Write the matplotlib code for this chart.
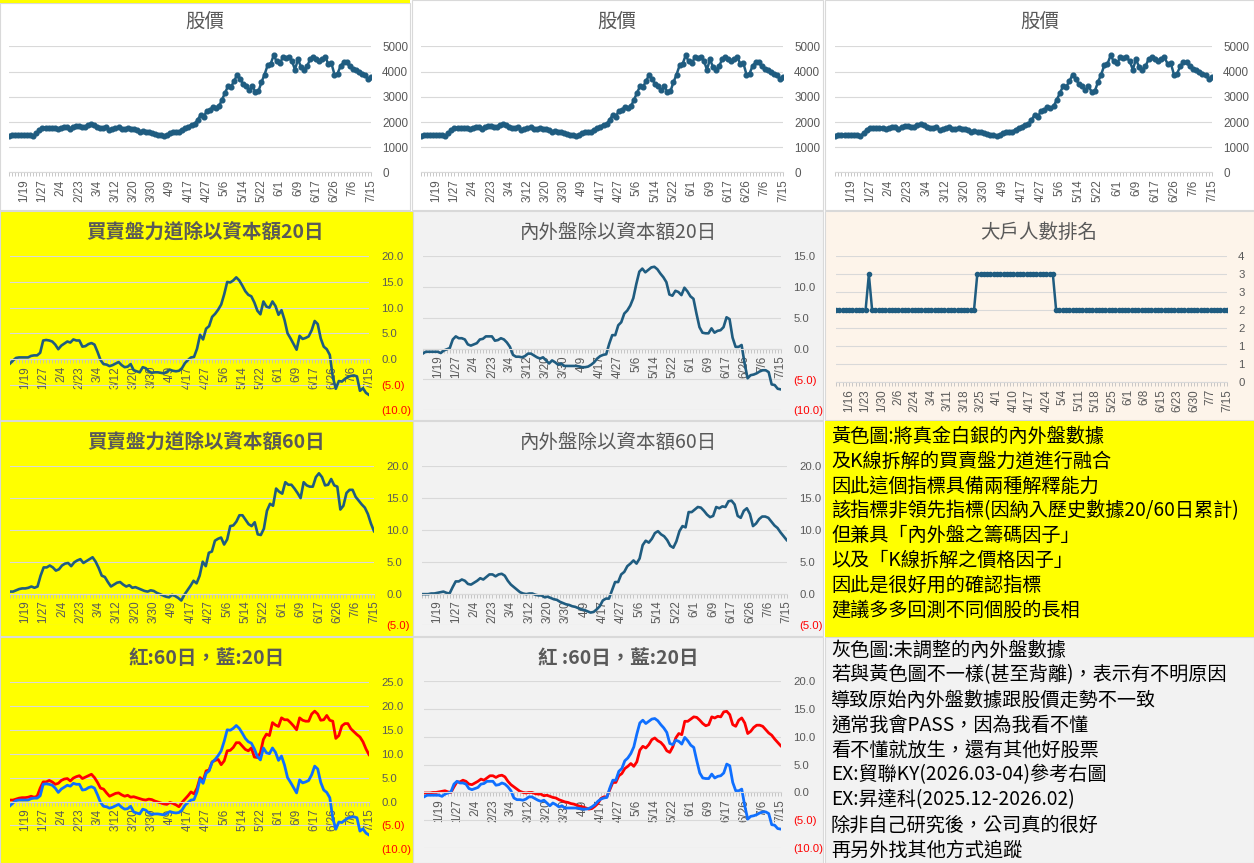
import math
import numpy as np
import matplotlib.pyplot as plt
from matplotlib.patches import Rectangle

plt.rcParams['font.family'] = ['Noto Sans CJK TC', 'DejaVu Sans']

W, H = 1254, 863

# 股價 (120 trading days)
price = [1460, 1500, 1500, 1500, 1500, 1500, 1500, 1480, 1460, 1550,
         1680, 1780, 1780, 1780, 1780, 1780, 1720, 1780, 1820, 1790,
         1720, 1800, 1860, 1860, 1800, 1820, 1880, 1930, 1880, 1820,
         1760, 1780, 1800, 1680, 1720, 1780, 1790, 1740, 1720, 1760,
         1740, 1720, 1700, 1620, 1640, 1620, 1600, 1580, 1520, 1490,
         1470, 1460, 1480, 1580, 1590, 1590, 1620, 1700, 1760, 1820,
         1900, 1920, 2080, 2280, 2200, 2440, 2460, 2600, 2560, 2620,
         2880, 3150, 3420, 3400, 3620, 3880, 3700, 3500, 3420, 3260,
         3420, 3200, 3220, 3580, 3880, 4240, 4300, 4640, 4400, 4320,
         4560, 4540, 4560, 4420, 4080, 4480, 4180, 4080, 4200, 4500,
         4560, 4480, 4400, 4480, 4560, 4300, 4320, 3880, 3920, 4220,
         4360, 4360, 4200, 4100, 4050, 4000, 3920, 3860, 3700, 3780]

# 買賣盤力道除以資本額 20日 / 60日
power20 = [-0.9, -0.3, 0.2, 0.3, 0.3, 0.3, 0.3, 0.6, 0.7, 0.7,
           1.2, 3.6, 3.7, 3.6, 3.4, 2.8, 1.9, 2.6, 3.0, 3.4,
           3.2, 3.8, 3.6, 3.6, 2.4, 2.5, 2.9, 3.1, 2.8, 1.4,
           -0.2, -1.0, -1.1, -1.4, -1.2, -0.9, -0.6, -1.2, -1.6, -1.5,
           -1.0, -2.2, -2.4, -2.6, -1.6, -1.8, -2.4, -2.7, -2.6, -2.6,
           -2.7, -2.8, -2.5, -2.1, -2.3, -2.4, -2.3, -1.8, -0.8, -0.2,
           0.3, 0.4, 2.0, 4.7, 3.8, 5.9, 6.4, 8.2, 8.8, 9.6,
           10.6, 12.6, 15.0, 14.9, 15.3, 15.9, 15.3, 14.3, 13.2, 12.5,
           12.2, 11.0, 9.4, 8.7, 11.2, 10.2, 10.0, 11.2, 10.3, 8.6,
           9.5, 7.6, 5.0, 4.0, 2.9, 1.8, 4.5, 3.9, 4.1, 4.4,
           5.6, 7.4, 6.8, 4.0, 2.4, 1.9, 0.8, -3.5, -5.8, -4.3,
           -4.4, -3.9, -3.5, -3.3, -3.2, -3.4, -6.2, -5.7, -6.6, -7.0]

power60 = [0.3, 0.3, 0.5, 0.7, 0.8, 0.8, 0.9, 1.1, 0.9, 1.1,
           2.8, 4.1, 4.1, 4.4, 4.1, 3.6, 3.8, 4.4, 4.7, 4.8,
           4.3, 4.9, 5.2, 5.4, 4.8, 5.1, 5.4, 5.7, 5.0, 4.0,
           2.8, 2.6, 1.8, 1.1, 1.4, 1.7, 1.8, 1.4, 1.1, 1.3,
           0.9, 1.0, 0.8, 0.6, 0.4, 0.3, 0.5, 0.4, 0.1, -0.1,
           -0.3, -0.5, -0.6, -0.2, -0.4, -0.7, -1.1, -0.2, 0.5, 1.2,
           2.0, 1.6, 2.8, 5.0, 4.3, 6.4, 6.6, 8.3, 8.6, 8.8,
           7.7, 8.5, 10.6, 10.7, 11.3, 12.3, 12.3, 11.6, 10.9, 10.6,
           11.2, 9.3, 9.2, 10.2, 13.0, 14.1, 13.8, 16.5, 16.0, 15.7,
           17.5, 17.1, 17.1, 16.5, 15.8, 15.0, 17.5, 17.0, 16.8, 16.8,
           18.3, 18.9, 18.3, 17.0, 17.1, 18.0, 17.0, 16.8, 13.2, 13.8,
           15.8, 16.3, 16.3, 15.2, 14.6, 14.0, 13.5, 12.5, 11.0, 9.8]

# 內外盤除以資本額 20日 / 60日
flow20 = [-0.8, -0.5, -0.5, -0.5, -0.5, -0.5, -0.7, -0.3, -0.1, 0.1,
          1.5, 2.0, 1.7, 1.7, 1.5, 0.7, 0.5, 0.7, 0.9, 1.5,
          1.6, 2.0, 2.0, 2.0, 1.3, 1.4, 1.7, 1.5, 1.0, 0.3,
          -1.0, -1.3, -1.3, -1.4, -1.2, -0.8, -0.8, -1.1, -1.4, -1.6,
          -1.4, -1.9, -2.4, -1.9, -2.2, -2.6, -2.4, -2.8, -2.8, -2.8,
          -2.8, -2.8, -2.9, -3.0, -3.0, -2.9, -2.6, -2.2, -1.6, -1.2,
          -1.0, -0.9, 0.8, 2.2, 2.2, 3.8, 4.3, 5.7, 6.2, 7.0,
          8.2, 10.5, 12.5, 13.0, 12.4, 12.8, 13.2, 13.3, 12.9, 12.2,
          11.6, 10.8, 8.8, 8.6, 9.4, 9.2, 8.7, 9.9, 9.3, 8.5,
          8.1, 5.7, 3.5, 2.6, 2.5, 2.5, 3.3, 2.6, 2.9, 3.0,
          3.5, 5.1, 4.8, 1.8, 0.3, 0.3, 0.6, -2.4, -4.8, -4.3,
          -4.2, -4.0, -3.7, -3.5, -3.5, -3.8, -5.8, -5.9, -6.5, -6.6]

flow60 = [-0.1, -0.1, -0.1, 0.0, 0.0, 0.1, 0.2, 0.3, 0.1, 0.0,
          1.0, 1.9, 1.9, 2.2, 2.0, 1.5, 1.4, 1.7, 2.0, 2.4,
          2.2, 2.6, 3.0, 3.0, 2.7, 3.0, 3.1, 2.8, 2.0, 1.4,
          1.0, 0.6, 0.2, 0.0, -0.1, 0.0, 0.0, -0.2, -0.3, -0.3,
          -0.6, -0.5, -0.7, -0.9, -1.0, -1.3, -1.5, -1.7, -1.8, -2.0,
          -2.1, -2.3, -2.5, -2.6, -2.8, -3.0, -2.9, -2.5, -2.0, -1.1,
          -0.8, -0.8, 0.5, 1.8, 1.8, 3.0, 3.4, 4.3, 4.7, 5.2,
          4.7, 5.5, 7.6, 8.3, 8.0, 8.6, 9.5, 9.8, 9.3, 9.0,
          8.4, 7.5, 7.2, 8.2, 9.8, 10.6, 10.4, 12.8, 12.8, 13.2,
          13.6, 13.5, 13.0, 12.4, 12.0, 12.2, 13.6, 13.4, 13.7, 13.6,
          14.5, 14.6, 14.0, 12.2, 11.9, 13.0, 13.4, 12.5, 10.6, 11.0,
          11.7, 12.1, 12.1, 11.9, 11.3, 10.7, 10.3, 9.6, 9.0, 8.4]

# 大戶人數排名
rank = [2, 2, 2, 2, 2, 2, 2, 2, 2, 2,
        3, 2, 2, 2, 2, 2, 2, 2, 2, 2,
        2, 2, 2, 2, 2, 2, 2, 2, 2, 2,
        2, 2, 2, 2, 2, 2, 2, 2, 2, 2,
        2, 2, 2, 3, 3, 3, 3, 3, 3, 3,
        3, 3, 3, 3, 3, 3, 3, 3, 3, 3,
        3, 3, 3, 3, 3, 3, 3, 2, 2, 2,
        2, 2, 2, 2, 2, 2, 2, 2, 2, 2,
        2, 2, 2, 2, 2, 2, 2, 2, 2, 2,
        2, 2, 2, 2, 2, 2, 2, 2, 2, 2,
        2, 2, 2, 2, 2, 2, 2, 2, 2, 2,
        2, 2, 2, 2, 2, 2, 2, 2, 2, 2]

day_labels = ['1/19', '1/27', '2/4', '2/23', '3/4', '3/12', '3/20', '3/30', '4/9', '4/17',
              '4/27', '5/6', '5/14', '5/22', '6/1', '6/9', '6/17', '6/26', '7/6', '7/15']
rank_labels = ['1/16', '1/23', '1/30', '2/6', '2/24', '3/4', '3/11', '3/18', '3/25', '4/1',
               '4/10', '4/17', '4/24', '5/4', '5/11', '5/18', '5/25', '6/1', '6/8', '6/15',
               '6/23', '6/30', '7/7', '7/15']

note_yellow = ['黃色圖:將真金白銀的內外盤數據',
               '及K線拆解的買賣盤力道進行融合',
               '因此這個指標具備兩種解釋能力',
               '該指標非領先指標(因納入歷史數據20/60日累計)',
               '但兼具「內外盤之籌碼因子」',
               '以及「K線拆解之價格因子」',
               '因此是很好用的確認指標',
               '建議多多回測不同個股的長相']
note_gray = ['灰色圖:未調整的內外盤數據',
             '若與黃色圖不一樣(甚至背離)，表示有不明原因',
             '導致原始內外盤數據跟股價走勢不一致',
             '通常我會PASS，因為我看不懂',
             '看不懂就放生，還有其他好股票',
             'EX:貿聯KY(2026.03-04)參考右圖',
             'EX:昇達科(2025.12-2026.02)',
             '除非自己研究後，公司真的很好',
             '再另外找其他方式追蹤']

YELLOW = '#ffff00'
GRAY = '#f2f2f2'
PEACH = '#fdf4ea'
EDGE = '#d9d9d9'
TXT = '#595959'
TEAL = '#1f5c80'
RED = '#ff0000'
BLUE = '#0f6fff'
NUMFONT = ['Liberation Sans', 'DejaVu Sans']

fig = plt.figure(figsize=(W / 100, H / 100), dpi=100)


def frac(x0, y0, x1, y1):
    return [x0 / W, 1 - y1 / H, (x1 - x0) / W, (y1 - y0) / H]


def panel(x0, y0, x1, y1, color, edge=EDGE):
    l, b, w, h = frac(x0, y0, x1, y1)
    fig.patches.append(Rectangle((l, b), w, h, transform=fig.transFigure,
                                 facecolor=color, edgecolor=edge, lw=0.8, zorder=-5))


def title(x, y, s, bold=False):
    fig.text(x / W, 1 - y / H, s, ha='center', va='center', fontsize=14,
             color=TXT, weight='bold' if bold else 'normal', zorder=5)


def fmt(v, paren):
    if paren and v < 0:
        return '(%.1f)' % abs(v)
    if paren:
        return '%.1f' % v
    return '%d' % v


def chart(box, ylo, yhi, ystep, labels, start, step, ylab='paren', ypad=9, yfs=8.2):
    ax = fig.add_axes(frac(*box), zorder=2)
    ax.set_facecolor('none')
    n = len(price)
    ax.set_xlim(0, n - 1)
    ax.set_ylim(ylo, yhi)
    for s in ['top', 'left', 'right']:
        ax.spines[s].set_visible(False)
    ax.spines['bottom'].set_color(EDGE)
    ax.spines['bottom'].set_position(('data', max(ylo, 0)))
    ticks = np.arange(ylo, yhi + ystep / 2, ystep)
    ax.yaxis.tick_right()
    ax.set_yticks(ticks)
    if ylab == 'paren':
        ax.set_yticklabels([fmt(t, True) for t in ticks])
    elif ylab == 'half':
        ax.set_yticklabels([str(int(math.floor(t + 0.5))) for t in ticks])
    else:
        ax.set_yticklabels([fmt(t, False) for t in ticks])
    for t, lab in zip(ticks, ax.get_yticklabels()):
        lab.set_color(RED if t < 0 else TXT)
        lab.set_family(NUMFONT)
    ax.tick_params(axis='y', length=0, pad=ypad, labelsize=yfs)
    ax.grid(axis='y', color=EDGE, lw=0.8)
    ax.set_axisbelow(True)
    ax.set_xticks(range(n), minor=True)
    ax.set_xticks(range(start, start + step * len(labels), step))
    ax.set_xticklabels(labels, rotation=90, ha='center', va='top', family=NUMFONT)
    ax.tick_params(axis='x', which='both', length=3, color='#bfbfbf', width=0.6,
                   labelsize=8.4, labelcolor=TXT, pad=2)
    return ax


x = np.arange(len(price))

# backgrounds
panel(0, 3, 410, 210, 'white')
panel(0, 0, 410, 3, YELLOW, edge='none')
panel(412, 0, 823, 210, 'white')
panel(825, 0, 1254, 210, 'white')
panel(0, 211, 413, 420, YELLOW)
panel(0, 421, 413, 636, YELLOW)
panel(0, 637, 413, 863, YELLOW)
panel(413, 211, 823, 420, GRAY)
panel(413, 421, 823, 636, GRAY)
panel(413, 637, 823, 863, GRAY)
panel(825, 211, 1254, 420, PEACH)
panel(825, 421, 1254, 637, YELLOW, edge='none')
panel(825, 637, 1254, 863, GRAY)

# row 1: 股價 x3
for bx, cx in [((9, 46.3, 371, 172.5), 205), ((421, 46.3, 783, 172.5), 617),
               ((835, 46.3, 1212, 172.5), 1040)]:
    ax = chart(bx, 0, 5000, 1000, day_labels, 5, 6, ylab='int', ypad=8, yfs=8.4)
    ax.plot(x, price, '-o', color=TEAL, lw=1.8, ms=3.4, mec=TEAL, mfc=TEAL)
    title(cx, 21, '股價')

# row 2
ax = chart((10, 256.3, 369, 410.3), -10, 20, 5, day_labels, 5, 6)
ax.plot(x, power20, color=TEAL, lw=1.9)
title(205, 232, '買賣盤力道除以資本額20日', bold=True)

ax = chart((422.7, 256.3, 780.7, 410.3), -10, 15, 5, day_labels, 5, 6)
ax.plot(x, flow20, color=TEAL, lw=1.9)
title(619, 232, '內外盤除以資本額20日')

ax = chart((836, 256.3, 1227, 382.3), 0, 3.5, 0.5, rank_labels, 4, 5, ylab='half', ypad=8)
ax.plot(x, rank, '-o', color=TEAL, lw=1.8, ms=3.0, mec=TEAL, mfc=TEAL)
title(1039, 232, '大戶人數排名')

# row 3
ax = chart((10, 466.3, 374, 625.3), -5, 20, 5, day_labels, 5, 6)
ax.plot(x, power60, color=TEAL, lw=1.9)
title(206, 442, '買賣盤力道除以資本額60日', bold=True)

ax = chart((422, 466.3, 786.7, 625.3), -5, 20, 5, day_labels, 5, 6)
ax.plot(x, flow60, color=TEAL, lw=1.9)
title(619, 442, '內外盤除以資本額60日')

# row 4
ax = chart((10, 682, 369, 849.3), -10, 25, 5, day_labels, 5, 6)
ax.plot(x, power60, color=RED, lw=2.0)
ax.plot(x, power20, color=BLUE, lw=2.0)
title(206, 658, '紅:60日，藍:20日', bold=True)

ax = chart((424, 681.3, 780.7, 848), -10, 20, 5, day_labels, 5, 6)
ax.plot(x, flow60, color=RED, lw=2.0)
ax.plot(x, flow20, color=BLUE, lw=2.0)
title(618, 658, '紅 :60日，藍:20日', bold=True)

# notes
for i, line in enumerate(note_yellow):
    fig.text(831 / W, 1 - (436 + 24.8 * i) / H, line, ha='left', va='center',
             fontsize=13.8, color='black', zorder=5)
for i, line in enumerate(note_gray):
    fig.text(831 / W, 1 - (650 + 25 * i) / H, line, ha='left', va='center',
             fontsize=13.8, color='black', zorder=5)

fig.savefig('out.png', dpi=100)
